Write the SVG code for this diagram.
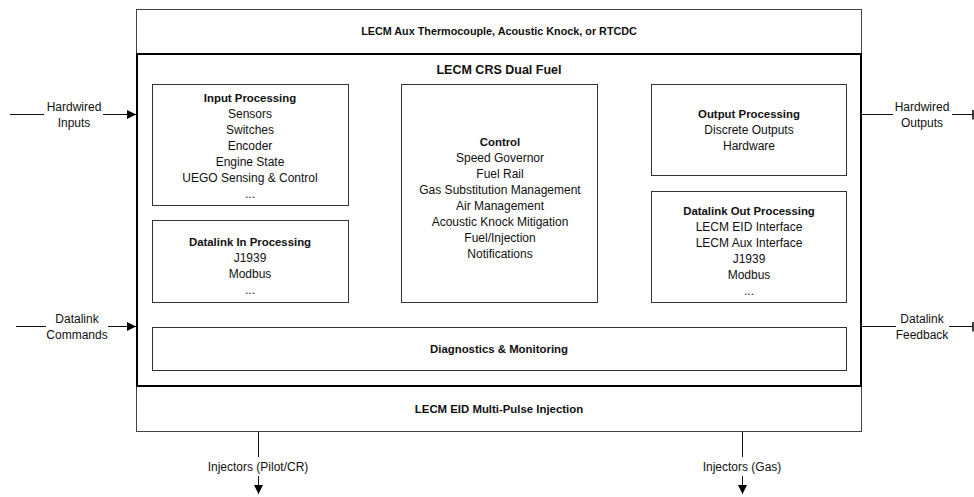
<svg xmlns="http://www.w3.org/2000/svg" width="974" height="497" viewBox="0 0 974 497">
  <style>
    text { font-family: "Liberation Sans", Arial, sans-serif; font-size: 12px; fill: #111; text-anchor: middle; }
    .b { font-weight: bold; font-size: 11.4px; }
    .h { font-weight: bold; font-size: 10.8px; }
    .t { font-size: 12.5px; font-weight: bold; }
    .box { fill: #fff; stroke: #333; stroke-width: 1; }
    .outer { fill: #fff; stroke: #444; stroke-width: 1; }
    .heavy { fill: none; stroke: #000; stroke-width: 2; }
    .ln { stroke: #111; stroke-width: 1; fill: none; }
  </style>
  <defs>
    <marker id="arr" viewBox="0 0 10 10" refX="10" refY="5" markerWidth="9" markerHeight="9" markerUnits="userSpaceOnUse" orient="auto">
      <path d="M0,0 L10,5 L0,10 z" fill="#000"/>
    </marker>
    <marker id="bar" viewBox="0 0 2 10" refX="1" refY="5" markerWidth="2" markerHeight="10" markerUnits="userSpaceOnUse" orient="auto">
      <path d="M1,0 L1,10" stroke="#000" stroke-width="1.5"/>
    </marker>
  </defs>

  <!-- outer module frame -->
  <g id="aux">
    <rect class="outer" x="136.5" y="9.5" width="725" height="45"/>
    <text class="h" x="499" y="35">LECM Aux Thermocouple, Acoustic Knock, or RTCDC</text>
  </g>
  <g id="eid">
    <rect class="outer" x="136.5" y="386.5" width="725" height="45"/>
    <text class="b" x="499" y="413">LECM EID Multi-Pulse Injection</text>
  </g>
  <g id="crs">
    <rect class="heavy" x="137" y="54" width="724" height="332"/>
    <text class="t" x="499" y="74">LECM CRS Dual Fuel</text>
  </g>

  <g id="input-processing">
    <rect class="box" x="152.5" y="84.5" width="196" height="121"/>
    <text class="b" x="250" y="102">Input Processing</text>
    <text x="250" y="118">Sensors</text>
    <text x="250" y="134">Switches</text>
    <text x="250" y="150">Encoder</text>
    <text x="250" y="166">Engine State</text>
    <text x="250" y="182">UEGO Sensing &amp; Control</text>
    <text x="250" y="198">...</text>
  </g>

  <g id="datalink-in">
    <rect class="box" x="152.5" y="220.5" width="196" height="82"/>
    <text class="b" x="250" y="246">Datalink In Processing</text>
    <text x="250" y="262">J1939</text>
    <text x="250" y="278">Modbus</text>
    <text x="250" y="294">...</text>
  </g>

  <g id="control">
    <rect class="box" x="401.5" y="84.5" width="196" height="218"/>
    <text class="b" x="500" y="146">Control</text>
    <text x="500" y="162">Speed Governor</text>
    <text x="500" y="178">Fuel Rail</text>
    <text x="500" y="194">Gas Substitution Management</text>
    <text x="500" y="210">Air Management</text>
    <text x="500" y="226">Acoustic Knock Mitigation</text>
    <text x="500" y="242">Fuel/Injection</text>
    <text x="500" y="258">Notifications</text>
  </g>

  <g id="output-processing">
    <rect class="box" x="651.5" y="84.5" width="195" height="91"/>
    <text class="b" x="749" y="118">Output Processing</text>
    <text x="749" y="134">Discrete Outputs</text>
    <text x="749" y="150">Hardware</text>
  </g>

  <g id="datalink-out">
    <rect class="box" x="651.5" y="191.5" width="195" height="111"/>
    <text class="b" x="749" y="215">Datalink Out Processing</text>
    <text x="749" y="231">LECM EID Interface</text>
    <text x="749" y="247">LECM Aux Interface</text>
    <text x="749" y="263">J1939</text>
    <text x="749" y="279">Modbus</text>
    <text x="749" y="295">...</text>
  </g>

  <g id="diagnostics">
    <rect class="box" x="152.5" y="327.5" width="694" height="43"/>
    <text class="b" x="499" y="353">Diagnostics &amp; Monitoring</text>
  </g>

  <!-- signal connectors -->
  <g id="connectors">
    <path class="ln" d="M10,114.5 H44"/>
    <path class="ln" d="M103,114.5 H136" marker-end="url(#arr)"/>
    <text x="74" y="111">Hardwired</text>
    <text x="74" y="127">Inputs</text>

    <path class="ln" d="M16,326.5 H46"/>
    <path class="ln" d="M108,326.5 H136" marker-end="url(#arr)"/>
    <text x="77" y="323">Datalink</text>
    <text x="77" y="339">Commands</text>

    <path class="ln" d="M862,114.5 H893"/>
    <path class="ln" d="M952,114.5 H973" marker-end="url(#bar)"/>
    <text x="922" y="111">Hardwired</text>
    <text x="922" y="127">Outputs</text>

    <path class="ln" d="M862,326.5 H896"/>
    <path class="ln" d="M949,326.5 H973" marker-end="url(#bar)"/>
    <text x="922" y="323">Datalink</text>
    <text x="922" y="339">Feedback</text>

    <path class="ln" d="M258.5,432 V457"/>
    <path class="ln" d="M258.5,476 V494" marker-end="url(#arr)"/>
    <text x="258" y="471">Injectors (Pilot/CR)</text>

    <path class="ln" d="M742.5,432 V457"/>
    <path class="ln" d="M742.5,476 V494" marker-end="url(#arr)"/>
    <text x="742" y="471">Injectors (Gas)</text>
  </g>
</svg>
